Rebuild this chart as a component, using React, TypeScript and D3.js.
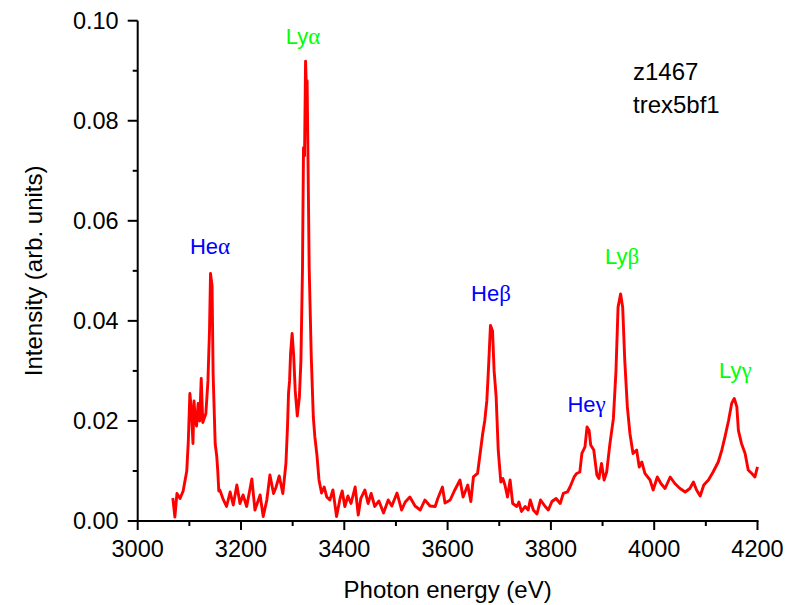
import React from "react";
import * as d3 from "d3";

const energy = [
  3068, 3072, 3076, 3082, 3088, 3095, 3098, 3101, 3104, 3107, 3109, 3111, 3114, 3117, 3120, 3123, 3126, 3132, 3136, 3139,
  3141, 3144, 3146, 3150, 3153, 3155, 3157, 3159, 3166, 3172, 3179, 3185, 3192, 3198, 3204, 3211, 3221, 3227, 3237, 3243,
  3250, 3256, 3263, 3268, 3274, 3281, 3287, 3290, 3292, 3294, 3296, 3299, 3302, 3305, 3309, 3313, 3316, 3319, 3321, 3323,
  3325, 3327, 3328, 3330, 3332, 3336, 3340, 3343, 3347, 3351, 3356, 3361, 3366, 3372, 3378, 3385, 3392, 3396, 3401, 3407,
  3413, 3421, 3427, 3432, 3440, 3446, 3452, 3459, 3467, 3476, 3485, 3492, 3502, 3511, 3518, 3527, 3537, 3547, 3556, 3566,
  3576, 3581, 3590, 3595, 3605, 3614, 3624, 3630, 3639, 3645, 3650, 3658, 3663, 3668, 3672, 3676, 3679, 3683, 3687, 3690,
  3694, 3698, 3703, 3707, 3711, 3716, 3721, 3726, 3734, 3738, 3743, 3750, 3756, 3760, 3766, 3773, 3780, 3789, 3795, 3802,
  3810, 3818, 3824, 3832, 3837, 3845, 3850, 3856, 3860, 3866, 3870, 3874, 3877, 3883, 3889, 3893, 3898, 3903, 3908, 3914,
  3921, 3926, 3930, 3935, 3939, 3943, 3948, 3953, 3959, 3966, 3971, 3976, 3982, 3992, 3998, 4006, 4013, 4021, 4031, 4040,
  4050, 4060, 4069, 4076, 4082, 4089, 4096, 4105, 4114, 4124, 4131, 4137, 4144, 4150, 4155, 4160, 4163, 4169, 4176, 4182,
  4189, 4195, 4200,
];

const intensity = [
  0.0046, 0.0008, 0.0055, 0.0045, 0.006, 0.01, 0.016, 0.0255, 0.022, 0.0155, 0.024, 0.021, 0.019, 0.0235, 0.02, 0.0285, 0.0197, 0.0215, 0.028, 0.038,
  0.0495, 0.047, 0.0295, 0.0155, 0.013, 0.01, 0.006, 0.0062, 0.0042, 0.0029, 0.0058, 0.0032, 0.0072, 0.0035, 0.0052, 0.0029, 0.0084, 0.0022, 0.0052, 0.0009,
  0.0042, 0.0092, 0.0055, 0.0068, 0.009, 0.0055, 0.0115, 0.0188, 0.0255, 0.028, 0.0335, 0.0375, 0.033, 0.026, 0.021, 0.0247, 0.032, 0.05, 0.0746, 0.073,
  0.0919, 0.085, 0.088, 0.07, 0.0507, 0.033, 0.0208, 0.0168, 0.0132, 0.0082, 0.0056, 0.0068, 0.0048, 0.0042, 0.0062, 0.0009, 0.0046, 0.006, 0.0029, 0.005,
  0.0035, 0.0068, 0.0012, 0.0045, 0.0062, 0.0035, 0.0055, 0.0029, 0.004, 0.0016, 0.0042, 0.003, 0.0056, 0.0022, 0.0038, 0.0048, 0.003, 0.0022, 0.0042, 0.003,
  0.0029, 0.0045, 0.0068, 0.0036, 0.0042, 0.0062, 0.0082, 0.0048, 0.0072, 0.0039, 0.0088, 0.0095, 0.0135, 0.0175, 0.0201, 0.0241, 0.0301, 0.0391, 0.038, 0.0301,
  0.0248, 0.0142, 0.0078, 0.0085, 0.0072, 0.0048, 0.0082, 0.0035, 0.0029, 0.0038, 0.0019, 0.0029, 0.0022, 0.0042, 0.0022, 0.0014, 0.0042, 0.0029, 0.0022, 0.0039,
  0.0045, 0.0035, 0.0055, 0.0058, 0.0068, 0.0088, 0.0095, 0.0098, 0.0135, 0.0148, 0.0188, 0.0181, 0.0152, 0.0142, 0.0092, 0.0085, 0.0115, 0.0082, 0.0098, 0.0152,
  0.0205, 0.03, 0.0427, 0.0454, 0.0427, 0.0321, 0.0228, 0.0175, 0.0135, 0.0142, 0.0108, 0.0118, 0.0095, 0.0082, 0.0062, 0.0088, 0.0075, 0.0065, 0.0088, 0.0075,
  0.0065, 0.0058, 0.0065, 0.0078, 0.0062, 0.005, 0.0072, 0.0082, 0.0098, 0.0118, 0.0142, 0.0168, 0.0201, 0.0235, 0.0245, 0.0228, 0.0181, 0.0155, 0.0135, 0.0102,
  0.0095, 0.0088, 0.0108,
];

const xMajorTicks = [3000, 3200, 3400, 3600, 3800, 4000, 4200];
const xMinorTicks = [3100, 3300, 3500, 3700, 3900, 4100];
const yMajorTicks = [0, 0.02, 0.04, 0.06, 0.08, 0.1];
const yMinorTicks = [0.01, 0.03, 0.05, 0.07, 0.09];

const lineNames = ["He", "Ly", "He", "He", "Ly", "Ly"];
const lineGreek = ["α", "α", "β", "γ", "β", "γ"];
const lineLabelEnergy = [3140, 3320, 3684, 3869, 3938, 4157];
const lineLabelIntensity = [0.0534, 0.0953, 0.0439, 0.0218, 0.0514, 0.0285];

const infoLines = ["z1467", "trex5bf1"];
const xTitle = "Photon energy (eV)";
const yTitle = "Intensity (arb. units)";

const W = 791;
const H = 605;
const left = 137.7;
const right = 757.5;
const top = 20.7;
const bottom = 521;
const FONT = "'Liberation Sans', Arial, sans-serif";

export default function App() {
  const x = d3.scaleLinear().domain([3000, 4200]).range([left, right]);
  const y = d3.scaleLinear().domain([0, 0.1]).range([bottom, top]);
  const pts = energy.map((e, i) => [e, intensity[i]] as [number, number]);
  const line = d3
    .line<[number, number]>()
    .x((d) => x(d[0]))
    .y((d) => y(d[1]));
  const fmt = d3.format(".2f");

  return (
    <svg
      width={W}
      height={H}
      style={{ position: "absolute", left: 0, top: 0, background: "#fff" }}
      fontFamily={FONT}
    >
      <rect x={0} y={0} width={W} height={H} fill="#fff" />
      <path d={line(pts) || ""} fill="none" stroke="#ff0000" strokeWidth={2.9} strokeLinejoin="round" />

      {/* axes */}
      <line x1={left} x2={left} y1={top} y2={bottom + 1} stroke="#000" strokeWidth={2} />
      <line x1={left - 1} x2={right + 1} y1={bottom} y2={bottom} stroke="#000" strokeWidth={2} />

      {yMajorTicks.map((t) => (
        <g key={"ym" + t}>
          <line x1={left - 10} x2={left} y1={y(t)} y2={y(t)} stroke="#000" strokeWidth={2} />
          <text x={left - 19} y={y(t)} dy="0.35em" textAnchor="end" fontSize={23.5} fill="#000">
            {fmt(t)}
          </text>
        </g>
      ))}
      {yMinorTicks.map((t) => (
        <line key={"yn" + t} x1={left - 5} x2={left} y1={y(t)} y2={y(t)} stroke="#000" strokeWidth={2} />
      ))}
      {xMajorTicks.map((t) => (
        <g key={"xm" + t}>
          <line x1={x(t)} x2={x(t)} y1={bottom} y2={bottom + 9} stroke="#000" strokeWidth={2} />
          <text x={x(t)} y={bottom + 36} textAnchor="middle" fontSize={23.5} fill="#000">
            {t}
          </text>
        </g>
      ))}
      {xMinorTicks.map((t) => (
        <line key={"xn" + t} x1={x(t)} x2={x(t)} y1={bottom} y2={bottom + 5} stroke="#000" strokeWidth={2} />
      ))}

      <text x={(left + right) / 2} y={598} textAnchor="middle" fontSize={24} fill="#000">
        {xTitle}
      </text>
      <text
        transform={`translate(42,${(top + bottom) / 2}) rotate(-90)`}
        textAnchor="middle"
        fontSize={24}
        fill="#000"
      >
        {yTitle}
      </text>

      {lineNames.map((n, i) => (
        <text
          key={"lab" + i}
          x={x(lineLabelEnergy[i])}
          y={y(lineLabelIntensity[i])}
          textAnchor="middle"
          fontSize={22}
          fill={n === "He" ? "#0000ff" : "#00ff00"}
        >
          {n}
          <tspan fontFamily="'Liberation Serif', 'DejaVu Serif', serif" fontSize={23}>
            {lineGreek[i]}
          </tspan>
        </text>
      ))}

      {infoLines.map((s, i) => (
        <text key={"info" + i} x={633} y={80 + i * 33.3} fontSize={24} fill="#000">
          {s}
        </text>
      ))}
    </svg>
  );
}
